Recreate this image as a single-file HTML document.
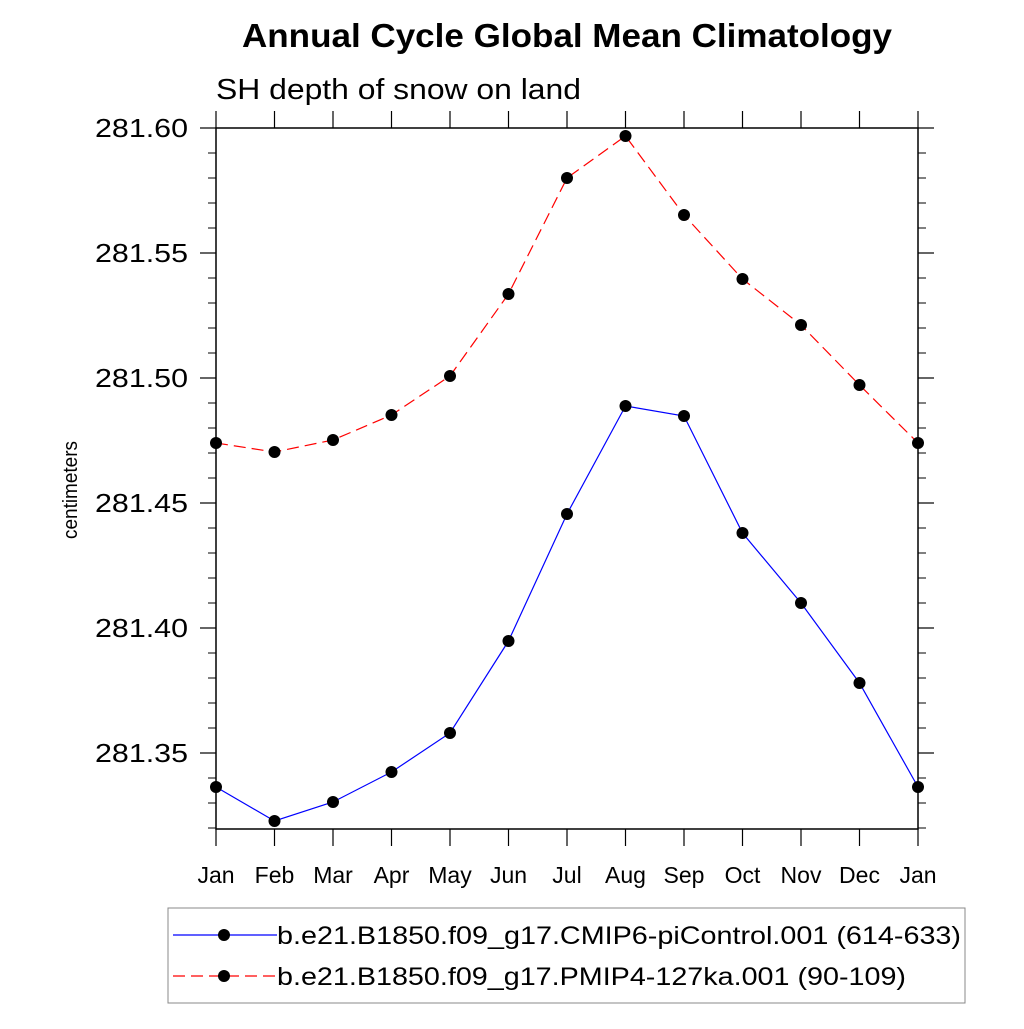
<!DOCTYPE html>
<html><head><meta charset="utf-8"><style>
body{margin:0;background:#fff}
svg text{font-family:"Liberation Sans",sans-serif;fill:#000}
</style></head><body>
<svg id="c" width="1024" height="1024" xmlns="http://www.w3.org/2000/svg">
<text x="242" y="47" font-size="33" font-weight="bold" textLength="650" lengthAdjust="spacingAndGlyphs">Annual Cycle Global Mean Climatology</text>
<text x="216" y="99" font-size="29" textLength="365" lengthAdjust="spacingAndGlyphs">SH depth of snow on land</text>
<text transform="translate(77,490) rotate(-90)" font-size="20" text-anchor="middle" textLength="98" lengthAdjust="spacingAndGlyphs">centimeters</text>
<g id="axes"></g>
<g id="series"></g>
<rect x="168" y="908" width="797" height="95" fill="none" stroke="#888" stroke-width="1"/>
<g>
<line x1="173" y1="935" x2="277" y2="935" stroke="#0000ff" stroke-width="1.2"/>
<circle cx="224" cy="935" r="6" fill="#000"/>
<text x="277" y="944" font-size="25" textLength="684" lengthAdjust="spacingAndGlyphs">b.e21.B1850.f09_g17.CMIP6-piControl.001 (614-633)</text>
</g>
<g>
<line x1="173" y1="976" x2="277" y2="976" stroke="#ff0000" stroke-width="1.2" stroke-dasharray="12,6"/>
<circle cx="224" cy="976" r="6" fill="#000"/>
<text x="277" y="985" font-size="25" textLength="629" lengthAdjust="spacingAndGlyphs">b.e21.B1850.f09_g17.PMIP4-127ka.001 (90-109)</text>
</g>
</svg>
<script>
const months=["Jan","Feb","Mar","Apr","May","Jun","Jul","Aug","Sep","Oct","Nov","Dec","Jan"];
const piControl=[281.3364,281.3228,281.3304,281.3424,281.358,281.3948,281.4456,281.4888,281.4848,281.438,281.41,281.378,281.3364];
const ka127=[281.474,281.4704,281.4752,281.4852,281.5008,281.5336,281.58,281.5968,281.5652,281.5396,281.5212,281.4972,281.474];
const yTicks=[281.35,281.40,281.45,281.50,281.55,281.60];
const yTickLabels=["281.35","281.40","281.45","281.50","281.55","281.60"];
const X0=216,X1=918,Y0=128,Y1=829,YMAX=281.60,YMIN=281.3196;
const NS="http://www.w3.org/2000/svg";
function xs(i){return X0+(X1-X0)*i/(months.length-1);}
function ys(v){return Y0+(YMAX-v)/(YMAX-YMIN)*(Y1-Y0);}
function mk(t,a,p){const e=document.createElementNS(NS,t);for(const k in a)e.setAttribute(k,a[k]);p.appendChild(e);return e;}
const ax=document.getElementById('axes');
const frame=mk('rect',{x:X0,y:Y0,width:X1-X0,height:Y1-Y0,fill:'none',stroke:'#000','stroke-width':1.5},ax);


for(let v=281.32;v<=281.6001;v+=0.01){
 const y=ys(v);
 mk('line',{x1:X0-8,y1:y,x2:X0,y2:y,stroke:'#000'},ax);
 mk('line',{x1:X1,y1:y,x2:X1+8,y2:y,stroke:'#000'},ax);
}
yTicks.forEach((v,i)=>{
 const y=ys(v);
 mk('line',{x1:X0-16,y1:y,x2:X0,y2:y,stroke:'#000','stroke-width':1.2},ax);
 mk('line',{x1:X1,y1:y,x2:X1+16,y2:y,stroke:'#000','stroke-width':1.2},ax);
 const t=mk('text',{x:X0-28,y:y+9,'font-size':26,'text-anchor':'end',textLength:93,lengthAdjust:'spacingAndGlyphs'},ax);
 t.textContent=yTickLabels[i];
 
 
});
months.forEach((m,i)=>{
 const x=xs(i);
 mk('line',{x1:x,y1:Y1,x2:x,y2:Y1+17,stroke:'#000','stroke-width':1.2},ax);
 mk('line',{x1:x,y1:Y0-17,x2:x,y2:Y0,stroke:'#000','stroke-width':1.2},ax);
 const t=mk('text',{x:x,y:883,'font-size':23,'text-anchor':'middle'},ax);
 t.textContent=m;
 
 
});
const sg=document.getElementById('series');
function drawSeries(vals,color,dash,name){
 const g=mk('g',{},sg);
 
 
 const pts=vals.map((v,i)=>xs(i)+','+ys(v)).join(' ');
 const a={points:pts,fill:'none',stroke:color,'stroke-width':1.2};
 if(dash)a['stroke-dasharray']=dash;
 mk('polyline',a,g);
 vals.forEach((v,i)=>{
  const c=mk('circle',{cx:xs(i),cy:ys(v),r:6,fill:'#000'},g);
  
  
 });
}
drawSeries(ka127,'#ff0000','12,6','series-127ka');
drawSeries(piControl,'#0000ff',null,'series-picontrol');
</script>
</body></html>
